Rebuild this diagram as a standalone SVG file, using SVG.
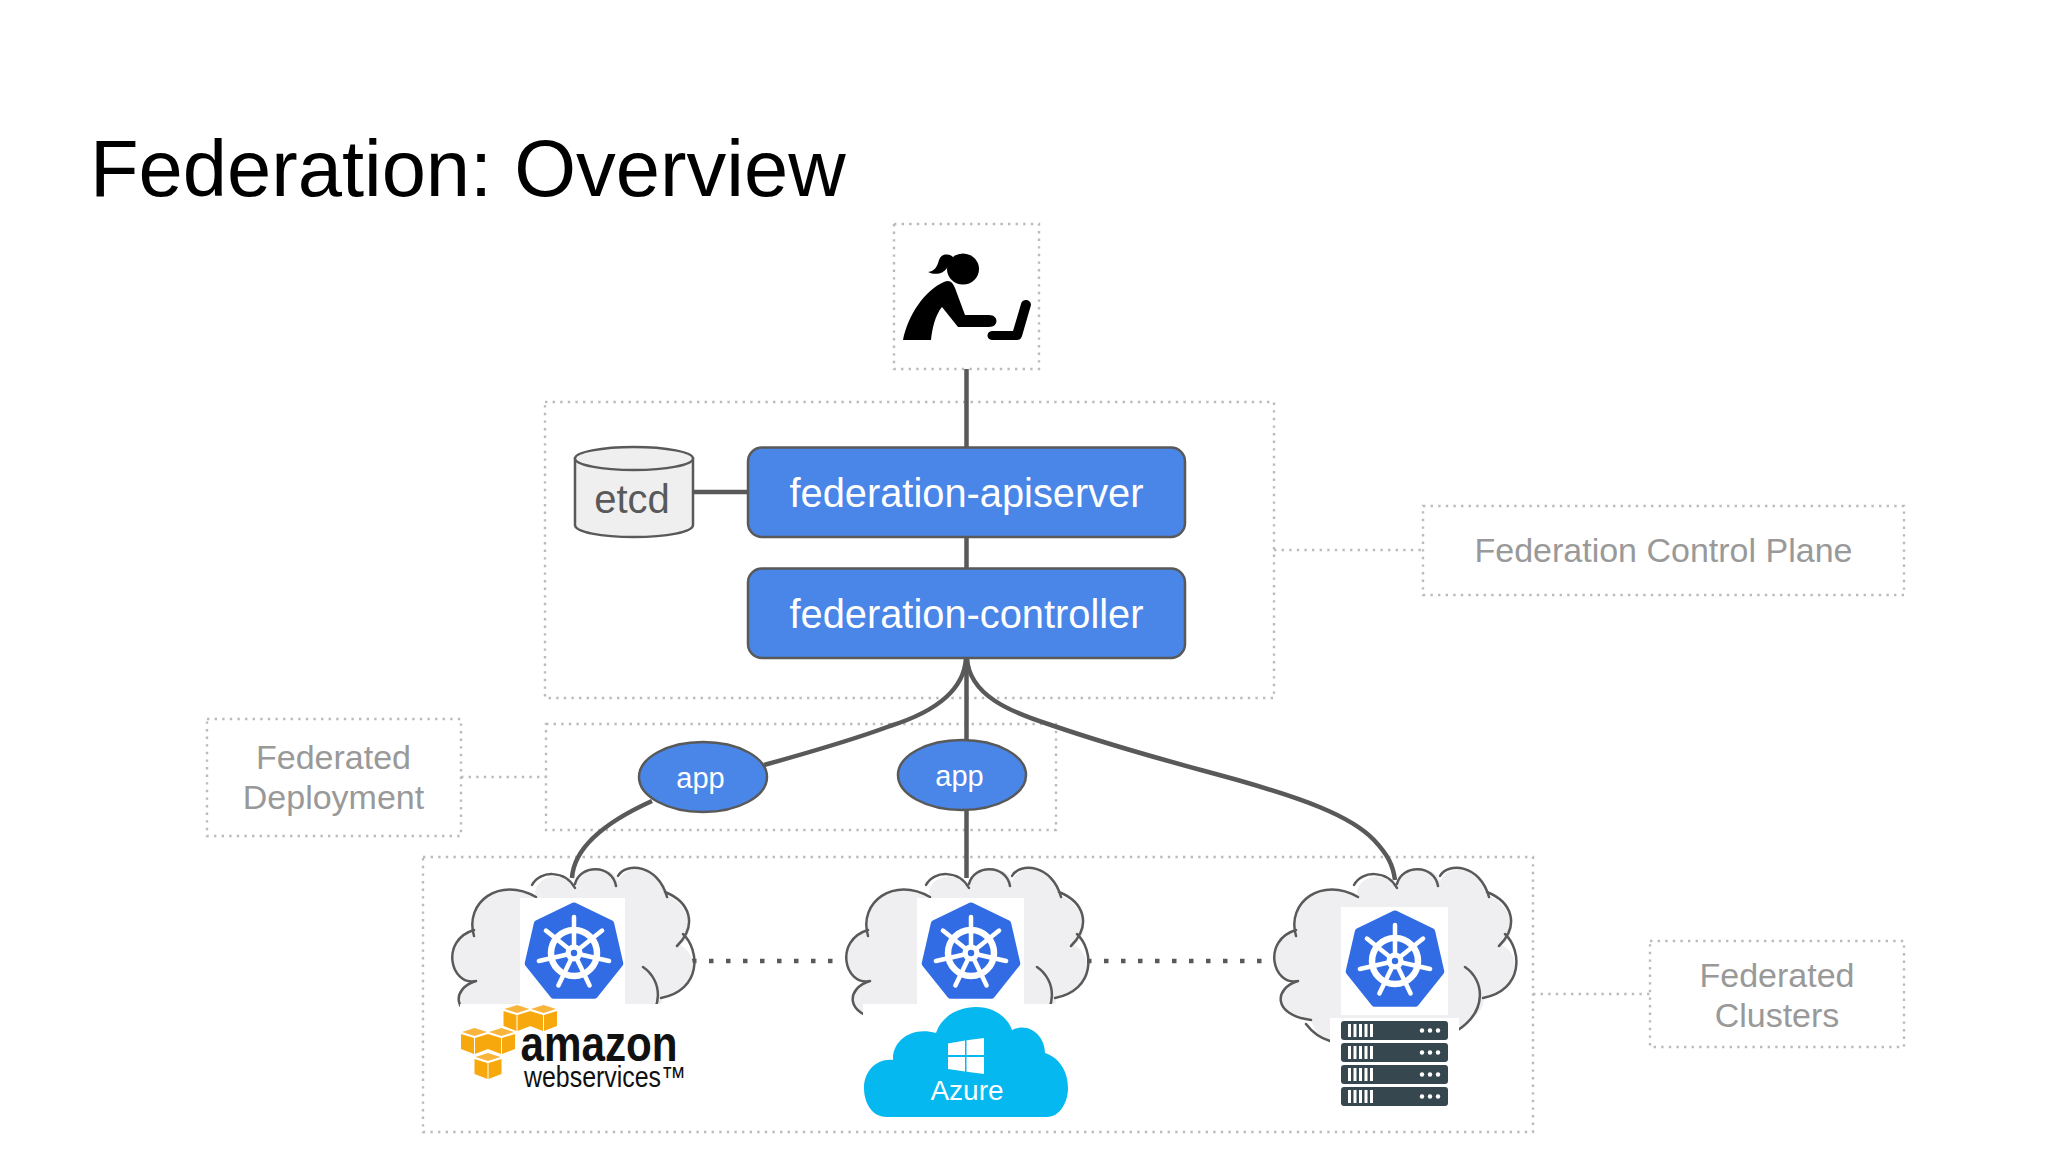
<svg xmlns="http://www.w3.org/2000/svg" width="2048" height="1152" viewBox="0 0 2048 1152">
<style>
text{font-family:"Liberation Sans",Arial,sans-serif}
.dot{fill:none;stroke:#bbb;stroke-width:2.4;stroke-dasharray:2.4 5.2}
.conn{fill:none;stroke:#595959;stroke-width:4.5}
.sq{fill:none;stroke:#595959;stroke-width:4.5;stroke-dasharray:4.5 12.5}
.blue{fill:#4a86e8;stroke:#595959;stroke-width:2.5}
.wt{fill:#fff;text-anchor:middle}
.lb{fill:#999;font-size:34px;text-anchor:middle}
.cl{fill:none;stroke:#595959;stroke-width:2.5;stroke-linecap:round}
.bar{fill:#fff}
</style>
<defs>
<g id="k8s">
<polygon points="0,-47 36.7,-29.3 45.8,10.5 20.4,42.3 -20.4,42.3 -45.8,10.5 -36.7,-29.3" fill="#326ce5" stroke="#326ce5" stroke-width="7" stroke-linejoin="round"/>
<circle r="23" fill="none" stroke="#fff" stroke-width="6.5"/>
<g stroke="#fff" stroke-width="4.500" stroke-linecap="round">
<line x1="0" y1="0" x2="0" y2="-36"/><line x1="0" y1="0" x2="28.1" y2="-22.4"/><line x1="0" y1="0" x2="35.1" y2="8"/><line x1="0" y1="0" x2="15.6" y2="32.4"/><line x1="0" y1="0" x2="-15.6" y2="32.4"/><line x1="0" y1="0" x2="-35.1" y2="8"/><line x1="0" y1="0" x2="-28.1" y2="-22.4"/>
</g>
<circle r="8.500" fill="#fff"/><circle r="3.2" fill="#326ce5"/>
</g>
<g id="cloud">
<path d="M76 141C52 148 50 175 89 180C95 195 100 200 108 201L236 190C266 170 262 160 261 158C300 150 300 115 280 105C298 95 288 62 267 56C262 24 224 22 218 42C215 24 180 24 175 46C160 26 130 40 136 57C100 37 66 60 74 91C40 100 50 146 76 141Z" fill="#efeff1"/>
<path class="cl" d="M76 141C52 148 50 175 89 180M84 184C90 192 98 198 108 201M76 141C50 146 40 100 74 90M74 96C64 62 100 36 136 57M132 45C140 30 165 30 175 48M175 44C180 24 212 24 216 46M218 36C226 22 258 24 267 57M265 52C290 62 298 85 277 106M283 94C300 110 302 150 261 158M243 127C262 140 266 170 236 190"/>
</g>
<g id="cube">
<polygon points="1,4 13.5,0 26,4 13.5,8" fill="#f9b43c"/>
<polygon points="0,6 13,10 13,26 0,21" fill="#f7a80d"/>
<polygon points="14,10 27,6 27,21 14,26" fill="#f7a80d"/>
</g>
<g id="srv">
<rect width="107" height="19" rx="3" fill="#37474f"/>
<rect class="bar" x="7" y="3" width="3" height="13"/><rect class="bar" x="12.5" y="3" width="3" height="13"/><rect class="bar" x="18" y="3" width="3" height="13"/><rect class="bar" x="23.500" y="3" width="3" height="13"/><rect class="bar" x="29" y="3" width="3" height="13"/>
<circle class="bar" cx="81" cy="9.500" r="2.200"/><circle class="bar" cx="89" cy="9.500" r="2.200"/><circle class="bar" cx="97" cy="9.500" r="2.200"/>
</g>
</defs>
<rect width="2048" height="1152" fill="#fff"/>
<text id="title" x="90" y="196" font-size="79.500" fill="#000">Federation: Overview</text>

<g id="frames">
<rect class="dot" x="894" y="224" width="145" height="145"/>
<rect class="dot" x="545" y="402" width="729" height="296"/>
<rect class="dot" x="546" y="724" width="510" height="106"/>
<rect class="dot" x="423" y="857" width="1110" height="275"/>
<line class="dot" x1="1274" y1="550" x2="1423" y2="550"/>
<line class="dot" x1="461" y1="777" x2="546" y2="777"/>
<line class="dot" x1="1533" y1="994" x2="1650" y2="994"/>
</g>

<g id="connectors">
<path class="conn" d="M966.500 369V447M966.500 537V568"/>
<path class="conn" d="M693 492H747"/>
<path class="conn" d="M966.500 658V740M966.500 810V878"/>
<path class="conn" d="M966 658C964 695 925 715 890 726C850 741 800 755 764 765"/>
<path class="conn" d="M652 801C610 820 574 845 572 878"/>
<path class="conn" d="M967 658C969 695 1010 712 1051 725C1130 752 1180 764 1241 781C1300 798 1350 815 1374 840C1388 855 1393 865 1395 880"/>
<line class="sq" x1="692" y1="961" x2="836" y2="961"/>
<line class="sq" x1="1087" y1="961" x2="1265" y2="961"/>
</g>

<g id="user">
<ellipse cx="963" cy="269" rx="16" ry="15.500"/>
<path d="M953 257C948 253 941 254 939 260C937 267 935 271 928 272C936 276 944 273 947 268C949 265 951 263 953 262Z"/>
<path d="M903 340C908 315 925 290 944 282C950 279 953 283 955 288L965 315L989 315C999 315 999 327 989 327L958 327L942 307C935 315 932 330 931 340Z"/>
<path d="M992 331L1013 331L1021 304C1022 298 1031 299 1031 305L1022 336C1021 339 1019 340 1017 340L992 340C986 340 986 331 992 331Z"/>
</g>

<g id="etcd">
<path d="M575 458.500V525C575 532 601 537 634 537S693 532 693 525V458.500Z" fill="#efefef" stroke="#595959" stroke-width="2.500"/>
<ellipse cx="634" cy="458.500" rx="59" ry="11.500" fill="#efefef" stroke="#595959" stroke-width="2.500"/>
<text x="632" y="513" font-size="40" fill="#595959" text-anchor="middle">etcd</text>
</g>

<g id="federation-apiserver">
<rect class="blue" x="748" y="447.500" width="437" height="89.500" rx="14"/>
<text class="wt" x="966.500" y="507" font-size="39.800">federation-apiserver</text>
</g>
<g id="federation-controller">
<rect class="blue" x="748" y="568.500" width="437" height="89.500" rx="14"/>
<text class="wt" x="966.500" y="628" font-size="39.800">federation-controller</text>
</g>

<g id="app1">
<ellipse class="blue" cx="703" cy="777" rx="64" ry="35"/>
<text class="wt" x="700.500" y="788" font-size="29">app</text>
</g>
<g id="app2">
<ellipse class="blue" cx="962" cy="775" rx="64" ry="35"/>
<text class="wt" x="959.500" y="786" font-size="29">app</text>
</g>

<g id="label-control-plane">
<rect class="dot" x="1423" y="506" width="481" height="89"/>
<text class="lb" x="1663.500" y="562">Federation Control Plane</text>
</g>
<g id="label-deployment">
<rect class="dot" x="207" y="719" width="254" height="117"/>
<text class="lb" x="333.500" y="769">Federated</text>
<text class="lb" x="333.500" y="809">Deployment</text>
</g>
<g id="label-clusters">
<rect class="dot" x="1650" y="941" width="254" height="106"/>
<text class="lb" x="1777" y="987">Federated</text>
<text class="lb" x="1777" y="1027">Clusters</text>
</g>

<g id="cluster-aws">
<use href="#cloud" transform="translate(400,840)"/>
<rect x="460" y="1004" width="230" height="106" fill="#fff"/>
<rect x="520" y="898" width="105" height="106" fill="#fff"/>
<use href="#k8s" transform="translate(574,953)"/>
<use href="#cube" x="503.500" y="1005"/><use href="#cube" x="530" y="1005"/>
<use href="#cube" x="461" y="1028"/><use href="#cube" x="488" y="1028"/>
<use href="#cube" x="474.500" y="1053"/>
<text x="520.500" y="1061" font-size="50" font-weight="bold" fill="#111" textLength="157" lengthAdjust="spacingAndGlyphs">amazon</text>
<text x="524" y="1087" font-size="29" fill="#111" textLength="162" lengthAdjust="spacingAndGlyphs">webservices™</text>
</g>

<g id="cluster-azure">
<use href="#cloud" transform="translate(794,840)"/>
<rect x="863" y="1004" width="206" height="126" fill="#fff"/>
<rect x="917" y="898" width="107" height="106" fill="#fff"/>
<use href="#k8s" transform="translate(971,953)"/>
<path d="M887 1117C870 1117 864 1100 864 1088C864 1070 878 1058 893 1060C892 1042 910 1026 936 1033C942 1015 960 1007 976 1007C995 1007 1008 1018 1012 1030C1028 1022 1045 1035 1045 1053C1060 1058 1068 1072 1068 1088C1068 1102 1060 1117 1047 1117Z" fill="#05b8f0"/>
<polygon points="948,1043.500 965,1040.500 965,1055 948,1055" fill="#fff"/>
<polygon points="966.500,1040.200 984,1038 984,1055 966.500,1055" fill="#fff"/>
<polygon points="948,1057 965,1057 965,1071.500 948,1069" fill="#fff"/>
<polygon points="966.500,1057 984,1057 984,1074 966.500,1071.800" fill="#fff"/>
<text class="wt" x="967" y="1100" font-size="28">Azure</text>
</g>

<g id="cluster-onprem">
<use href="#cloud" transform="translate(1222,840)"/>
<rect x="1330" y="1018" width="129" height="92" fill="#fff"/>
<rect x="1341" y="907" width="107" height="108" fill="#fff"/>
<use href="#k8s" transform="translate(1395,961)"/>
<use href="#srv" x="1341" y="1021"/><use href="#srv" x="1341" y="1043"/><use href="#srv" x="1341" y="1065"/><use href="#srv" x="1341" y="1087"/>
</g>
</svg>
